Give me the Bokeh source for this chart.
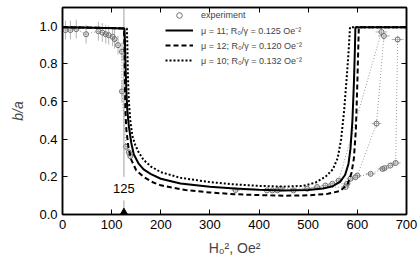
from bokeh.plotting import figure
from bokeh.models import (Range1d, LinearAxis, FixedTicker, Legend, LegendItem,
                          PrintfTickFormatter, CustomLabelingPolicy)
from bokeh.core.properties import value
from bokeh.embed import file_html
from bokeh.resources import INLINE

# ---- theory curves ----
x_mu11 = [0, 60, 110, 126, 127, 128, 130, 132, 135, 140, 145, 155, 165, 180, 200, 240, 300, 350, 400, 450, 500, 530, 550, 565, 575, 582, 586, 590, 593, 595, 596, 700]
y_mu11 = [0.995, 0.993, 0.99, 0.988, 0.93, 0.82, 0.65, 0.55, 0.47, 0.38, 0.32, 0.27, 0.24, 0.215, 0.19, 0.165, 0.148, 0.138, 0.132, 0.128, 0.13, 0.138, 0.15, 0.175, 0.21, 0.27, 0.35, 0.5, 0.7, 0.88, 0.995, 0.995]

x_mu12 = [0, 60, 110, 125, 126, 127, 128, 130, 134, 140, 150, 165, 185, 200, 250, 300, 350, 400, 450, 500, 540, 565, 580, 588, 593, 597, 600, 602, 603, 700]
y_mu12 = [0.995, 0.993, 0.99, 0.988, 0.9, 0.7, 0.55, 0.45, 0.36, 0.29, 0.235, 0.2, 0.17, 0.155, 0.13, 0.117, 0.108, 0.103, 0.1, 0.102, 0.11, 0.125, 0.16, 0.22, 0.3, 0.45, 0.7, 0.9, 0.995, 0.995]

x_mu10 = [0, 60, 110, 131, 132, 133, 135, 138, 142, 148, 155, 165, 180, 200, 240, 300, 350, 400, 450, 490, 515, 535, 550, 560, 567, 573, 579, 583, 585, 700]
y_mu10 = [0.995, 0.993, 0.99, 0.988, 0.9, 0.75, 0.6, 0.5, 0.42, 0.37, 0.33, 0.29, 0.255, 0.225, 0.195, 0.172, 0.16, 0.152, 0.148, 0.152, 0.17, 0.2, 0.24, 0.3, 0.4, 0.55, 0.75, 0.9, 0.995, 0.995]

# ---- experiment (four runs) ----
run1_x = [6, 16, 28, 48, 73, 81, 88, 94, 102, 106, 113, 121, 121, 129, 135, 138]
run1_y = [0.98, 0.98, 0.985, 0.958, 0.974, 0.967, 0.958, 0.953, 0.944, 0.932, 0.9, 0.865, 0.654, 0.36, 0.33, 0.31]
run1_ex = [4, 4, 4, 4, 4, 4, 4, 4, 4, 4, 4, 4, 5, 5, 5, 5]
run1_ey = [0.05, 0.05, 0.05, 0.05, 0.05, 0.05, 0.05, 0.05, 0.05, 0.05, 0.05, 0.05, 0.06, 0.02, 0.02, 0.02]

run2_x = [352, 437, 498, 535, 562, 649]
run2_y = [0.13, 0.128, 0.137, 0.154, 0.18, 0.97]
run2_ex = [8, 8, 8, 8, 8, 12]
run2_ey = [0.01, 0.01, 0.01, 0.01, 0.01, 0.025]

run3_x = [416, 470, 518, 549, 579, 600, 639, 654]
run3_y = [0.128, 0.128, 0.146, 0.163, 0.163, 0.207, 0.483, 0.949]
run3_ex = [8, 8, 8, 8, 8, 8, 10, 12]
run3_ey = [0.01, 0.01, 0.01, 0.01, 0.01, 0.01, 0.02, 0.025]

run4_x = [427, 444, 576, 586, 596, 627, 651, 655, 667, 678, 682]
run4_y = [0.128, 0.137, 0.146, 0.19, 0.198, 0.216, 0.242, 0.246, 0.26, 0.274, 0.93]
run4_ex = [8, 8, 8, 8, 8, 10, 10, 10, 10, 10, 12]
run4_ey = [0.01, 0.01, 0.01, 0.01, 0.01, 0.01, 0.01, 0.01, 0.01, 0.01, 0.02]

# ---- threshold marker ----
thr_x = [125]
thr_label = ["125"]
thr_label_y = [0.138]
thr_line_lo = [0.0, 0.2]
thr_line_hi = [0.075, 1.1]

x_ticks = [0, 100, 200, 300, 400, 500, 600, 700]
y_ticks = [0.0, 0.2, 0.4, 0.6, 0.8, 1.0]

FONT = "Liberation Sans"
GREY = "#808080"

p = figure(width=418, height=258, output_backend="svg", toolbar_location=None,
           x_range=Range1d(0, 700), y_range=Range1d(0, 209 / 190),
           min_border_left=62, min_border_right=12, min_border_top=7, min_border_bottom=42,
           background_fill_color="white", border_fill_color="white")
p.grid.visible = False
p.outline_line_color = "black"
p.outline_line_width = 1.5

bottom = p.below[0]
left = p.left[0]

hide_labels = CustomLabelingPolicy(code="for (const i of indices) { indices.unset(i) }\nreturn indices")

def style_axis(ax, labels=True):
    ax.axis_line_color = "black"
    ax.axis_line_width = 1.5
    ax.major_tick_in = 5
    ax.major_tick_out = 0
    ax.minor_tick_line_color = None
    ax.major_tick_line_color = "black"
    ax.major_tick_line_width = 1
    ax.major_label_text_font = FONT
    ax.major_label_text_font_size = "13px"
    ax.major_label_text_color = "black"
    ax.major_label_standoff = 5
    if not labels:
        ax.major_label_policy = hide_labels
        ax.major_label_text_font_size = "0px"
        ax.major_label_standoff = 0
        ax.axis_label_standoff = 0

bottom.ticker = FixedTicker(ticks=x_ticks)
left.ticker = FixedTicker(ticks=y_ticks)
left.formatter = PrintfTickFormatter(format="%.1f")
style_axis(bottom)
style_axis(left)
top = LinearAxis(ticker=FixedTicker(ticks=x_ticks))
right = LinearAxis(ticker=FixedTicker(ticks=y_ticks))
style_axis(top, labels=False)
style_axis(right, labels=False)
p.add_layout(top, "above")
p.add_layout(right, "right")

bottom.axis_label = "H\u2080\u00b2, Oe\u00b2"
bottom.axis_label_text_font = FONT
bottom.axis_label_text_font_size = "14px"
bottom.axis_label_text_font_style = "normal"
bottom.axis_label_standoff = 8
left.axis_label = "b/a"
left.axis_label_text_font = FONT
left.axis_label_text_font_size = "14px"
left.axis_label_text_font_style = "italic"
left.axis_label_standoff = 10

# experiment
exp_renderer = None
for xs, ys, exs, eys in [(run1_x, run1_y, run1_ex, run1_ey),
                         (run2_x, run2_y, run2_ex, run2_ey),
                         (run3_x, run3_y, run3_ex, run3_ey),
                         (run4_x, run4_y, run4_ex, run4_ey)]:
    p.segment(x0=[a - e for a, e in zip(xs, exs)], x1=[a + e for a, e in zip(xs, exs)],
              y0=ys, y1=ys, line_color="#b4b4b4", line_width=1)
    p.segment(x0=xs, x1=xs, y0=[a - e for a, e in zip(ys, eys)], y1=[a + e for a, e in zip(ys, eys)],
              line_color="#b4b4b4", line_width=1)
    p.line(xs, ys, line_color=GREY, line_width=0.8, line_dash="1 2")
    r = p.scatter(xs, ys, marker="circle", size=5, fill_color="white", fill_alpha=0.0,
                  line_color="#6e6e6e", line_width=1)
    if exp_renderer is None:
        exp_renderer = r

# threshold marker
p.segment(x0=thr_x * 2, x1=thr_x * 2, y0=thr_line_lo, y1=thr_line_hi, line_color="#a0a0a0", line_width=1)
p.scatter(thr_x, [0.012], marker="triangle", size=7, fill_color="black", line_color="black")
p.text(thr_x, thr_label_y, text=thr_label, text_font=value(FONT), text_font_size="13px",
       text_align="center", text_baseline="middle", text_color="black")

# theory
r11 = p.line(x_mu11, y_mu11, line_color="black", line_width=2)
r12 = p.line(x_mu12, y_mu12, line_color="black", line_width=2, line_dash="5 3")
r10 = p.line(x_mu10, y_mu10, line_color="black", line_width=2, line_dash="2 2")

legend = Legend(items=[
    LegendItem(label="experiment", renderers=[exp_renderer]),
    LegendItem(label="\u03bc = 11; R\u2080/\u03b3 = 0.125 Oe\u207b\u00b2", renderers=[r11]),
    LegendItem(label="\u03bc = 12; R\u2080/\u03b3 = 0.120 Oe\u207b\u00b2", renderers=[r12]),
    LegendItem(label="\u03bc = 10; R\u2080/\u03b3 = 0.132 Oe\u207b\u00b2", renderers=[r10]),
], location=(103, 147))
legend.background_fill_alpha = 0
legend.border_line_color = None
legend.padding = 0
legend.margin = 0
legend.spacing = 1
legend.label_height = 14
legend.glyph_height = 14
legend.glyph_width = 28
legend.label_standoff = 8
legend.label_text_font = FONT
legend.label_text_font_size = "9px"
legend.label_text_baseline = "middle"
p.add_layout(legend, "center")

open("out.html", "w").write(file_html(p, INLINE))
